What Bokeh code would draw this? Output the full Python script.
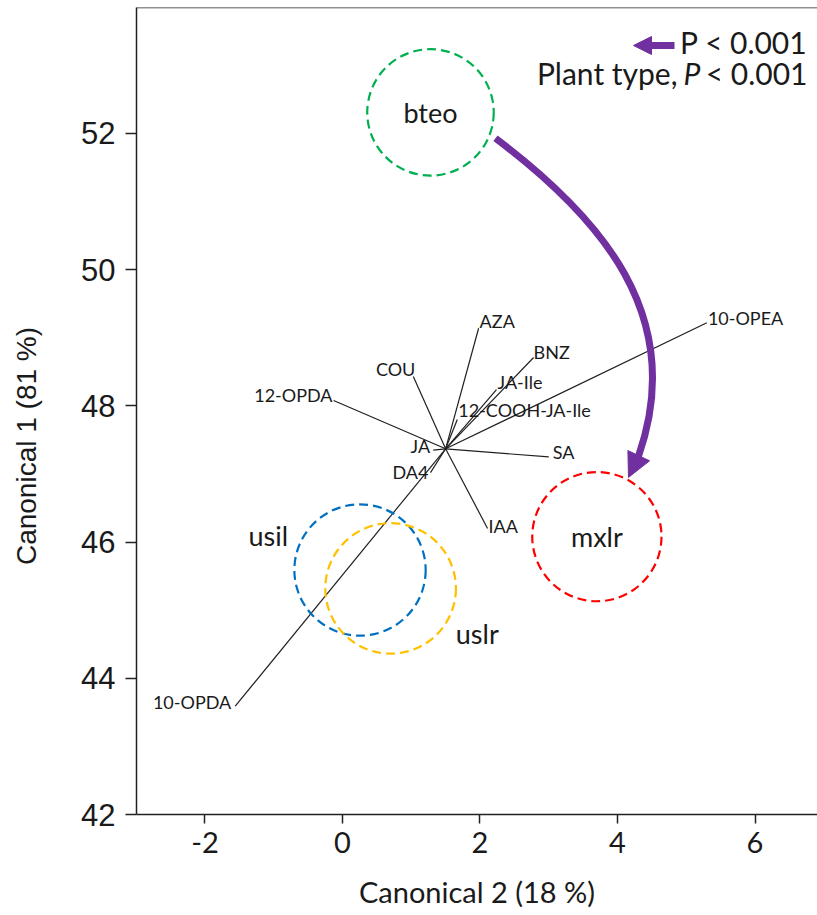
import math
from bokeh.plotting import figure
from bokeh.models import Range1d, FixedTicker, Label, Span, Arrow, NormalHead, ColumnDataSource
from bokeh.core.properties import value
from bokeh.embed import file_html
from bokeh.resources import INLINE

# ---------------- data ----------------
x_ticks = [-2, 0, 2, 4, 6]
x_tick_labels = ["-2", "0", "2", "4", "6"]
y_ticks = [42, 44, 46, 48, 50, 52]
x_title = "Canonical 2 (18 %)"
y_title = "Canonical 1 (81 %)"

groups = ["bteo", "usil", "uslr", "mxlr"]
group_x = [1.28, 0.255, 0.70, 3.70]
group_y = [52.31, 45.59, 45.32, 46.08]
group_r = [0.92, 0.955, 0.95, 0.94]
group_label_x = [1.28, -1.08, 1.96, 3.70]
group_label_y = [52.31, 46.10, 44.66, 46.08]
group_colors = ["#00B050", "#0070C0", "#FFC000", "#FF0000"]

origin_x = 1.50
origin_y = 47.37
vec_names = ["AZA", "BNZ", "JA-Ile", "12-COOH-JA-Ile", "COU", "12-OPDA",
             "JA", "DA4", "SA", "IAA", "10-OPEA", "10-OPDA"]
vec_x = [1.98, 2.78, 2.24, 1.67, 1.03, -0.13, 1.32, 1.28, 3.00, 2.11, 5.30, -1.56]
vec_y = [49.14, 48.71, 48.24, 47.80, 48.43, 48.08, 47.35, 47.02, 47.25, 46.20, 49.22, 43.59]

# curved shift arrow bteo -> mxlr (cubic bezier: start, control1, control2, end, tip)
shift_x = [2.225, 3.738, 5.025, 4.305, 4.16]
shift_y = [51.93, 50.78, 49.33, 47.26, 46.95]

legend_line1 = ["P < 0.001"]
legend_line2 = ["Plant type,", "P", "< 0.001"]

# ---------------- styles ----------------
vec_align = ["left", "left", "left", "left", "right", "right",
             "right", "right", "left", "left", "left", "right"]
vec_dx = [1, 0, 1, 1, 2, -1, -3, -2, 4, 1, 1, -4]
vec_dy = [-7, -6, -8, -10, -8, -5, -4, -1, -5, -2, -5, -4]

PURPLE = "#7030A0"
TXT = "#1a1a1a"
AX = "#222222"
FONT = "Lato"

X0, X1 = -2.996, 6.909
Y0, Y1 = 42.0, 53.85

p = figure(width=817, height=915, output_backend="svg", toolbar_location=None,
           x_range=Range1d(X0, X1), y_range=Range1d(Y0, Y1),
           min_border_left=136, min_border_right=0, min_border_top=7,
           min_border_bottom=101)
p.outline_line_color = None
p.grid.visible = False
p.background_fill_color = "white"
p.border_fill_color = "white"

# axes
p.xaxis.ticker = FixedTicker(ticks=x_ticks)
p.xaxis.major_label_overrides = dict(zip(x_ticks, x_tick_labels))
p.yaxis.ticker = FixedTicker(ticks=y_ticks)
for ax in (p.xaxis[0], p.yaxis[0]):
    ax.axis_line_color = AX
    ax.axis_line_width = 1.5
    ax.major_tick_line_color = AX
    ax.major_tick_line_width = 1.5
    ax.minor_tick_line_color = None
    ax.major_tick_in = 0
    ax.major_label_text_color = TXT
    ax.axis_label_text_color = TXT
    ax.axis_label_text_font_style = "normal"
p.xaxis.major_tick_out = 9
p.yaxis.major_tick_out = 11
p.xaxis.major_label_text_font = FONT
p.xaxis.major_label_text_font_size = "29px"
p.xaxis.major_label_standoff = 8
p.xaxis.axis_label = x_title
p.xaxis.axis_label_text_font = FONT
p.xaxis.axis_label_text_font_size = "29px"
p.xaxis.axis_label_standoff = 18

p.yaxis.major_label_text_font = "Liberation Sans"
p.yaxis.major_label_text_font_size = "31px"
p.yaxis.major_label_standoff = 10
# trailing no-break spaces shift the centred title down, as in the reference
p.yaxis.axis_label = y_title + "\u00a0" * 9
p.yaxis.axis_label_text_font = "Liberation Sans"
p.yaxis.axis_label_text_font_size = "28px"
p.yaxis.axis_label_standoff = 36

p.add_layout(Span(location=Y1, dimension="width", line_color=AX, line_width=1.5))

# vectors
vsrc = ColumnDataSource(dict(x0=[origin_x] * len(vec_x), y0=[origin_y] * len(vec_y),
                             x1=vec_x, y1=vec_y, name=vec_names, align=vec_align,
                             dx=vec_dx, dy=vec_dy))
p.segment(x0="x0", y0="y0", x1="x1", y1="y1", source=vsrc, line_color="#202020",
          line_width=1.2)
p.text(x="x1", y="y1", text="name", source=vsrc, text_align="align",
       x_offset="dx", y_offset="dy", text_baseline="alphabetic",
       text_font=value(FONT), text_font_size="18px", text_color=TXT)

# group circles
gsrc = ColumnDataSource(dict(x=group_x, y=group_y, r=group_r, c=group_colors,
                             lx=group_label_x, ly=group_label_y, name=groups))
p.circle(x="x", y="y", radius="r", source=gsrc, fill_color=None, line_color="c",
         line_width=2.2, line_dash="9 5")
p.text(x="lx", y="ly", text="name", source=gsrc, text_align="center",
       text_baseline="middle", text_font=value(FONT), text_font_size="27px",
       text_color=TXT)

# curved arrow
p.bezier(x0=[shift_x[0]], y0=[shift_y[0]], cx0=[shift_x[1]], cy0=[shift_y[1]],
         cx1=[shift_x[2]], cy1=[shift_y[2]], x1=[shift_x[3]], y1=[shift_y[3]],
         line_color=PURPLE, line_width=7)
p.add_layout(Arrow(x_start=shift_x[3], y_start=shift_y[3], x_end=shift_x[4], y_end=shift_y[4],
                   line_color=PURPLE, line_width=7,
                   end=NormalHead(size=24, fill_color=PURPLE, line_color=PURPLE, line_width=1)))

# legend (frame-relative screen units)
p.add_layout(Arrow(x_start=538, y_start=769, x_end=497, y_end=769,
                   start_units="screen", end_units="screen",
                   line_color=PURPLE, line_width=7,
                   end=NormalHead(size=18, fill_color=PURPLE, line_color=PURPLE, line_width=1)))
lab_kw = dict(x_units="screen", y_units="screen", text_font=FONT, text_font_size="30px",
              text_color=TXT, text_baseline="alphabetic")
p.add_layout(Label(x=671, y=773, text=legend_line1[0], text_align="right", **lab_kw))
p.add_layout(Label(x=541, y=742, text=legend_line2[0], text_align="right", **lab_kw))
p.add_layout(Label(x=547, y=742, text=legend_line2[1], text_align="left",
                   text_font_style="italic", **lab_kw))
p.add_layout(Label(x=671, y=742, text=legend_line2[2], text_align="right", **lab_kw))

open("out.html", "w").write(file_html(p, INLINE))
